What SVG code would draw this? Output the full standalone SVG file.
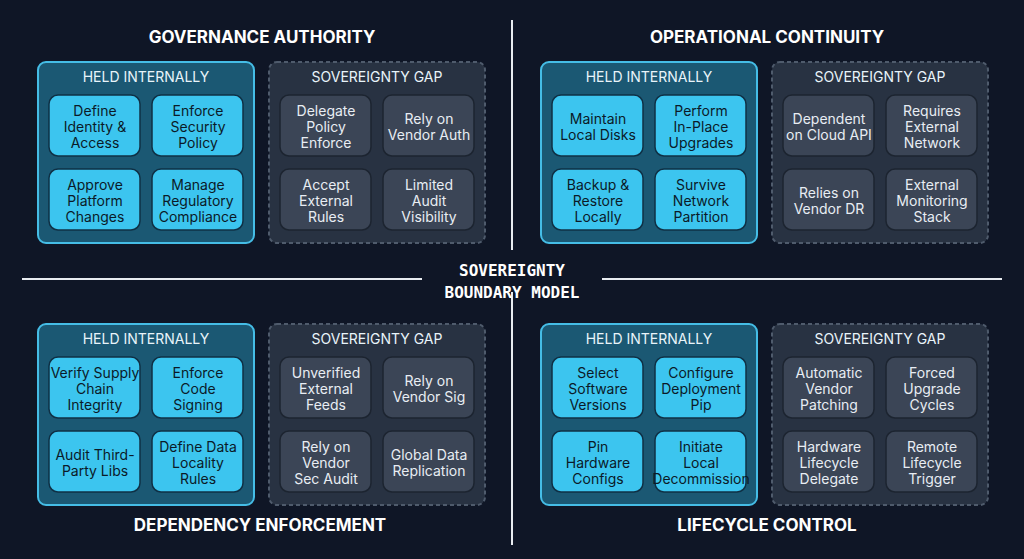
<svg xmlns="http://www.w3.org/2000/svg" width="1024" height="559" viewBox="0 0 1024 559">
<style>
.t{font-family:"Inter","Liberation Sans",sans-serif;font-weight:700;font-size:17px;fill:#fff;text-anchor:middle}
.h{font-family:"Inter","Liberation Sans",sans-serif;font-size:14px;fill:#e8f4fa;text-anchor:middle}
.hb{fill:#1b5873;stroke:#45bde6;stroke-width:2}
.gb{fill:#283242;stroke:#4f5b6c;stroke-width:2;stroke-dasharray:4 3}
.hn{fill:#3cc5ef;stroke:#0f3045;stroke-width:1.5}
.gn{fill:#3b4556;stroke:#1c2430;stroke-width:1.5}
.ht{font-family:"Inter","Liberation Sans",sans-serif;font-size:14px;fill:#0b1a28;text-anchor:middle}
.gt{font-family:"Inter","Liberation Sans",sans-serif;font-size:14px;fill:#e8edf3;text-anchor:middle}
.ln{stroke:#e8ecf0;stroke-width:2}
</style>
<defs>
<g id="hq"><rect x="0" y="0" width="216" height="181" rx="8" class="hb"/><text x="108" y="20" class="h">HELD INTERNALLY</text>
<rect x="11" y="33" width="91" height="61" rx="9" class="hn"/><rect x="114" y="33" width="91" height="61" rx="9" class="hn"/>
<rect x="11" y="107" width="91" height="61" rx="9" class="hn"/><rect x="114" y="107" width="91" height="61" rx="9" class="hn"/></g>
<g id="gq"><rect x="0" y="0" width="216" height="181" rx="8" class="gb"/><text x="108" y="20" class="h">SOVEREIGNTY GAP</text>
<rect x="11" y="33" width="91" height="61" rx="9" class="gn"/><rect x="114" y="33" width="91" height="61" rx="9" class="gn"/>
<rect x="11" y="107" width="91" height="61" rx="9" class="gn"/><rect x="114" y="107" width="91" height="61" rx="9" class="gn"/></g>
</defs>
<rect width="1024" height="559" fill="#0f1626"/>
<g id="connectors">
<line x1="512" y1="20" x2="512" y2="250" class="ln"/><line x1="512" y1="292" x2="512" y2="545" class="ln"/>
<line x1="22" y1="279" x2="422" y2="279" class="ln"/><line x1="602" y1="279" x2="1002" y2="279" class="ln"/>
</g>
<g id="center"><text x="512" y="276" font-family="DejaVu Sans Mono,monospace" font-weight="700" font-size="16" fill="#fff" text-anchor="middle">SOVEREIGNTY</text>
<text x="512" y="298" font-family="DejaVu Sans Mono,monospace" font-weight="700" font-size="16" fill="#fff" text-anchor="middle">BOUNDARY MODEL</text></g>

<g id="governance"><text x="262" y="43" class="t">GOVERNANCE AUTHORITY</text>
<use href="#hq" x="38" y="62"/><use href="#gq" x="269" y="62"/>
<g class="ht"><text x="95" y="116">Define</text><text x="95" y="132">Identity &amp;</text><text x="95" y="148">Access</text>
<text x="198" y="116">Enforce</text><text x="198" y="132">Security</text><text x="198" y="148">Policy</text>
<text x="95" y="190">Approve</text><text x="95" y="206">Platform</text><text x="95" y="222">Changes</text>
<text x="198" y="190">Manage</text><text x="198" y="206">Regulatory</text><text x="198" y="222">Compliance</text></g>
<g class="gt"><text x="326" y="116">Delegate</text><text x="326" y="132">Policy</text><text x="326" y="148">Enforce</text>
<text x="429" y="124">Rely on</text><text x="429" y="140">Vendor Auth</text>
<text x="326" y="190">Accept</text><text x="326" y="206">External</text><text x="326" y="222">Rules</text>
<text x="429" y="190">Limited</text><text x="429" y="206">Audit</text><text x="429" y="222">Visibility</text></g></g>

<g id="operational"><text x="767" y="43" class="t">OPERATIONAL CONTINUITY</text>
<use href="#hq" x="541" y="62"/><use href="#gq" x="772" y="62"/>
<g class="ht"><text x="598" y="124">Maintain</text><text x="598" y="140">Local Disks</text>
<text x="701" y="116">Perform</text><text x="701" y="132">In-Place</text><text x="701" y="148">Upgrades</text>
<text x="598" y="190">Backup &amp;</text><text x="598" y="206">Restore</text><text x="598" y="222">Locally</text>
<text x="701" y="190">Survive</text><text x="701" y="206">Network</text><text x="701" y="222">Partition</text></g>
<g class="gt"><text x="829" y="124">Dependent</text><text x="829" y="140">on Cloud API</text>
<text x="932" y="116">Requires</text><text x="932" y="132">External</text><text x="932" y="148">Network</text>
<text x="829" y="198">Relies on</text><text x="829" y="214">Vendor DR</text>
<text x="932" y="190">External</text><text x="932" y="206">Monitoring</text><text x="932" y="222">Stack</text></g></g>

<g id="dependency"><text x="260" y="531" class="t">DEPENDENCY ENFORCEMENT</text>
<use href="#hq" x="38" y="324"/><use href="#gq" x="269" y="324"/>
<g class="ht"><text x="95" y="378">Verify Supply</text><text x="95" y="394">Chain</text><text x="95" y="410">Integrity</text>
<text x="198" y="378">Enforce</text><text x="198" y="394">Code</text><text x="198" y="410">Signing</text>
<text x="95" y="460">Audit Third-</text><text x="95" y="476">Party Libs</text>
<text x="198" y="452">Define Data</text><text x="198" y="468">Locality</text><text x="198" y="484">Rules</text></g>
<g class="gt"><text x="326" y="378">Unverified</text><text x="326" y="394">External</text><text x="326" y="410">Feeds</text>
<text x="429" y="386">Rely on</text><text x="429" y="402">Vendor Sig</text>
<text x="326" y="452">Rely on</text><text x="326" y="468">Vendor</text><text x="326" y="484">Sec Audit</text>
<text x="429" y="460">Global Data</text><text x="429" y="476">Replication</text></g></g>

<g id="lifecycle"><text x="767" y="531" class="t">LIFECYCLE CONTROL</text>
<use href="#hq" x="541" y="324"/><use href="#gq" x="772" y="324"/>
<g class="ht"><text x="598" y="378">Select</text><text x="598" y="394">Software</text><text x="598" y="410">Versions</text>
<text x="701" y="378">Configure</text><text x="701" y="394">Deployment</text><text x="701" y="410">Pip</text>
<text x="598" y="452">Pin</text><text x="598" y="468">Hardware</text><text x="598" y="484">Configs</text>
<text x="701" y="452">Initiate</text><text x="701" y="468">Local</text><text x="701" y="484">Decommission</text></g>
<g class="gt"><text x="829" y="378">Automatic</text><text x="829" y="394">Vendor</text><text x="829" y="410">Patching</text>
<text x="932" y="378">Forced</text><text x="932" y="394">Upgrade</text><text x="932" y="410">Cycles</text>
<text x="829" y="452">Hardware</text><text x="829" y="468">Lifecycle</text><text x="829" y="484">Delegate</text>
<text x="932" y="452">Remote</text><text x="932" y="468">Lifecycle</text><text x="932" y="484">Trigger</text></g></g>
</svg>
